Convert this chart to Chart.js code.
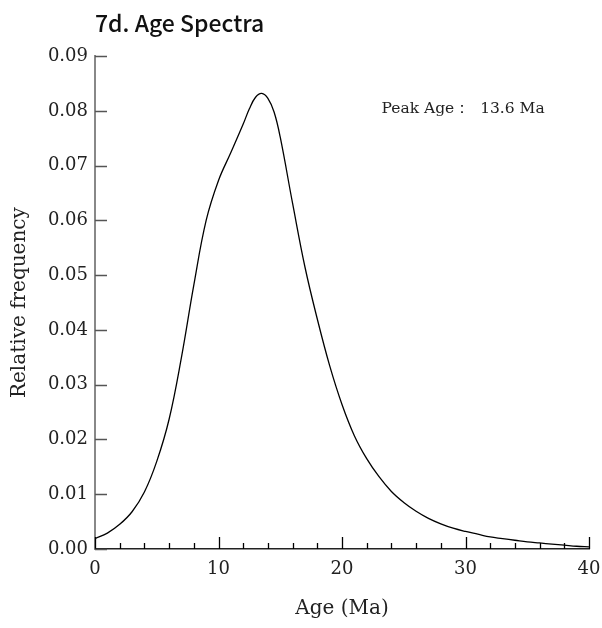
<!DOCTYPE html>
<html>
<head>
<meta charset="utf-8">
<script src="https://cdn.jsdelivr.net/npm/chart.js@4.4.1/dist/chart.umd.min.js"></script>
<style>
  html, body { margin: 0; padding: 0; background: #fff; }
  #wrap { width: 602px; height: 628px; }
</style>
</head>
<body>
<div id="wrap"><canvas id="spectra-canvas" width="602" height="628"></canvas></div>
<script>
// age (Ma) and relative frequency
var ages = [0, 1, 2, 3, 4, 5, 6, 7, 8, 9, 10, 11, 12, 12.5, 13, 13.5, 14, 14.5, 15, 16, 17, 18, 19, 20,
            21, 22, 23, 24, 25, 26, 27, 28, 29, 30, 31, 32, 33, 34, 35, 36, 37, 38, 39, 40];
var freqs = [0.0019, 0.0029, 0.0045, 0.0068, 0.0104, 0.0160, 0.0237, 0.0350, 0.0482, 0.0600,
             0.0673, 0.0724, 0.0776, 0.0804, 0.0825, 0.0832, 0.0823, 0.0798, 0.0752, 0.0631,
             0.0515, 0.0420, 0.0335, 0.0264, 0.0207, 0.0165, 0.0132, 0.0105, 0.0085, 0.0069,
             0.0056, 0.0046, 0.0038, 0.0032, 0.0027, 0.0022, 0.0019, 0.0016, 0.0013, 0.0011,
             0.0009, 0.0007, 0.0005, 0.0004];
var xTicks = [0, 10, 20, 30, 40];
var xMinorTicks = [2, 4, 6, 8, 12, 14, 16, 18, 22, 24, 26, 28, 32, 34, 36, 38];
var yTicks = [0, 0.01, 0.02, 0.03, 0.04, 0.05, 0.06, 0.07, 0.08, 0.09];
var peakAge = 13.6;

var serif = '"DejaVu Serif", "Liberation Serif", serif';

var points = [];
for (var i = 0; i < ages.length; i++) {
    points.push({ x: ages[i], y: freqs[i] });
}

// ticks point inward, so they are drawn here instead of by the grid
var innerTicks = {
    id: 'innerTicks',
    afterDraw: function(chart) {
        var ctx = chart.ctx;
        var xs = chart.scales.x;
        var ys = chart.scales.y;
        var bottom = chart.chartArea.bottom;
        var left = chart.chartArea.left;
        ctx.save();
        ctx.strokeStyle = '#000';
        ctx.lineWidth = 1.3;
        ctx.beginPath();
        xTicks.forEach(function(v) {
            var px = Math.round(xs.getPixelForValue(v)) + 0.5;
            ctx.moveTo(px, bottom);
            ctx.lineTo(px, bottom - 12);
        });
        xMinorTicks.forEach(function(v) {
            var px = Math.round(xs.getPixelForValue(v)) + 0.5;
            ctx.moveTo(px, bottom);
            ctx.lineTo(px, bottom - 6);
        });
        ctx.stroke();

        ctx.strokeStyle = '#555';
        ctx.lineWidth = 1.3;
        ctx.beginPath();
        yTicks.forEach(function(v) {
            var py = Math.round(ys.getPixelForValue(v)) + 0.5;
            ctx.moveTo(left, py);
            ctx.lineTo(left + 12, py);
        });
        ctx.stroke();

        // peak annotation
        ctx.fillStyle = '#222';
        ctx.font = '15.5px ' + serif;
        ctx.textAlign = 'left';
        ctx.textBaseline = 'middle';
        ctx.fillText('Peak Age：  ' + peakAge + ' Ma', xs.getPixelForValue(23.2), ys.getPixelForValue(0.0803));
        ctx.restore();
    }
};

var ctx = document.getElementById('spectra-canvas').getContext('2d');
var chartObj = new Chart(ctx, {
    type: 'line',
    data: {
        datasets: [{
            data: points,
            borderColor: '#000',
            borderWidth: 1.3,
            pointRadius: 0,
            fill: false,
            tension: 0.4
        }]
    },
    options: {
        responsive: false,
        animation: false,
        layout: { padding: { left: 0, right: 0, top: 0, bottom: 0 } },
        plugins: {
            legend: { display: false },
            tooltip: { enabled: false },
            title: {
                display: true,
                text: '7d. Age Spectra',
                align: 'start',
                fullSize: false,
                color: '#111',
                font: { family: '"Noto Sans CJK JP", "Noto Sans", sans-serif', size: 23, weight: '500' },
                padding: { top: 9, bottom: 19.6 }
            }
        },
        scales: {
            x: {
                type: 'linear',
                min: 0,
                max: 40,
                afterBuildTicks: function(scale) {
                    scale.ticks = xTicks.map(function(v) { return { value: v }; });
                },
                grid: { display: false, drawTicks: false },
                border: { display: true, color: '#222', width: 1.5 },
                ticks: {
                    color: '#222',
                    padding: 10,
                    maxRotation: 0,
                    font: { family: serif, size: 18 }
                },
                title: {
                    display: true,
                    text: 'Age (Ma)',
                    color: '#222',
                    font: { family: serif, size: 20 },
                    padding: { top: 6, bottom: 7 }
                },
                afterFit: function(scale) {
                    scale.height = 79;
                    scale.paddingLeft = 0;
                    scale.paddingRight = 13;
                }
            },
            y: {
                min: 0,
                max: 0.09,
                afterBuildTicks: function(scale) {
                    scale.ticks = yTicks.map(function(v) { return { value: v }; });
                },
                grid: { display: false, drawTicks: false },
                border: { display: true, color: '#888', width: 2 },
                ticks: {
                    color: '#222',
                    padding: 7,
                    font: { family: serif, size: 18 },
                    callback: function(v) { return v.toFixed(2); }
                },
                title: {
                    display: true,
                    text: 'Relative frequency',
                    color: '#222',
                    font: { family: serif, size: 20 },
                    padding: { top: 8, bottom: 6 }
                },
                afterFit: function(scale) { scale.width = 95; }
            }
        }
    },
    plugins: [innerTicks]
});
</script>
</body>
</html>
